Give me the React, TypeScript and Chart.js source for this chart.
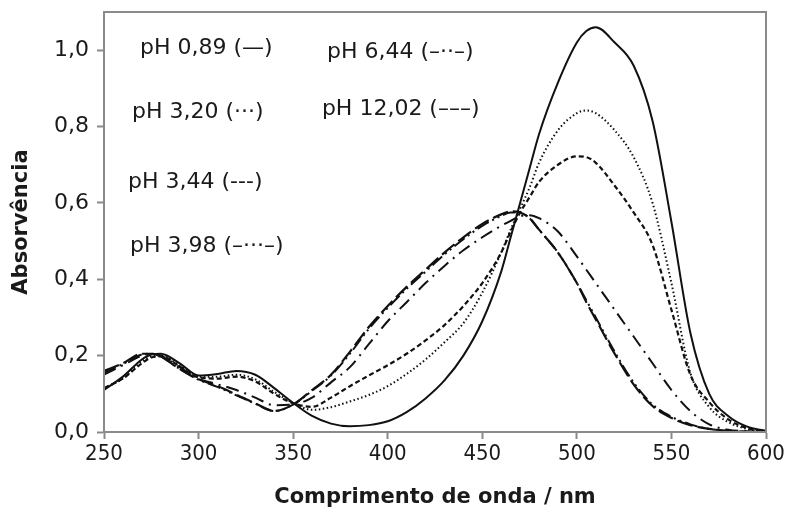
import React, { useEffect, useRef } from "react";
import { Chart, registerables } from "chart.js";

Chart.register(...registerables);

const wavelengths = [250, 260, 270, 275, 280, 290, 300, 310, 320, 330, 340, 350, 360, 370, 380, 390, 400, 410, 420, 430, 440, 450, 460, 465, 470, 475, 480, 490, 500, 505, 510, 520, 530, 540, 550, 560, 570, 580, 590, 600];

const ph089 = [0.11, 0.145, 0.19, 0.203, 0.205, 0.18, 0.148, 0.152, 0.16, 0.15, 0.115, 0.076, 0.042, 0.022, 0.015, 0.018, 0.028, 0.052, 0.088, 0.135, 0.2, 0.29, 0.42, 0.51, 0.6, 0.69, 0.78, 0.915, 1.02, 1.05, 1.06, 1.02, 0.96, 0.815, 0.55, 0.26, 0.1, 0.042, 0.014, 0.003];
const ph320 = [0.115, 0.14, 0.185, 0.198, 0.2, 0.175, 0.145, 0.145, 0.15, 0.138, 0.105, 0.076, 0.058, 0.065, 0.08, 0.097, 0.12, 0.152, 0.19, 0.235, 0.285, 0.365, 0.47, 0.53, 0.585, 0.64, 0.705, 0.79, 0.835, 0.842, 0.835, 0.79, 0.72, 0.6, 0.39, 0.155, 0.065, 0.026, 0.008, 0.001];
const ph344 = [0.115, 0.14, 0.18, 0.195, 0.198, 0.172, 0.143, 0.14, 0.145, 0.132, 0.1, 0.075, 0.066, 0.09, 0.12, 0.148, 0.175, 0.205, 0.24, 0.28, 0.33, 0.39, 0.47, 0.525, 0.575, 0.615, 0.655, 0.7, 0.722, 0.72, 0.705, 0.645, 0.575, 0.49, 0.32, 0.15, 0.078, 0.033, 0.01, 0.002];
const ph398 = [0.15, 0.175, 0.2, 0.205, 0.2, 0.17, 0.14, 0.125, 0.11, 0.09, 0.07, 0.072, 0.09, 0.13, 0.17, 0.23, 0.29, 0.34, 0.39, 0.435, 0.476, 0.51, 0.54, 0.553, 0.565, 0.568, 0.56, 0.525, 0.46, 0.425, 0.39, 0.32, 0.25, 0.18, 0.11, 0.055, 0.02, 0.006, 0.002, 0];
const ph644 = [0.155, 0.178, 0.203, 0.205, 0.198, 0.165, 0.137, 0.118, 0.096, 0.074, 0.055, 0.072, 0.108, 0.148, 0.205, 0.27, 0.325, 0.375, 0.42, 0.465, 0.505, 0.54, 0.566, 0.575, 0.574, 0.56, 0.53, 0.47, 0.39, 0.345, 0.3, 0.21, 0.13, 0.072, 0.04, 0.02, 0.008, 0.003, 0.001, 0];
const ph1202 = [0.16, 0.18, 0.205, 0.205, 0.198, 0.165, 0.138, 0.12, 0.098, 0.075, 0.055, 0.072, 0.11, 0.15, 0.21, 0.275, 0.33, 0.38, 0.425, 0.47, 0.51, 0.545, 0.57, 0.578, 0.575, 0.56, 0.53, 0.47, 0.39, 0.34, 0.295, 0.205, 0.125, 0.068, 0.037, 0.018, 0.008, 0.003, 0.001, 0];

const xTicks = [250, 300, 350, 400, 450, 500, 550, 600];
const yTicks = [0, 0.2, 0.4, 0.6, 0.8, 1.0];

const legendTexts = ["pH 0,89 (\u2014)", "pH 6,44 (\u2013\u00b7\u00b7\u2013)", "pH 3,20 (\u00b7\u00b7\u00b7)", "pH 12,02 (\u2013\u2013\u2013)", "pH 3,44 (---)", "pH 3,98 (\u2013\u00b7\u00b7\u00b7\u2013)"];
// anchor of each label in data units (left edge x, middle y)
const legendAnchors = [
  [269.0, 1.005],
  [367.9, 0.995],
  [264.8, 0.838],
  [365.2, 0.845],
  [262.7, 0.655],
  [263.7, 0.487],
];

const FONT = "'DejaVu Sans', sans-serif";
const FONT_C = "'DejaVu Sans Condensed', 'DejaVu Sans', sans-serif";
const GREY = "#8a8a8a";
const INK = "#1a1a1a";

const series = [
  { label: "pH 0,89", data: ph089, dash: [], width: 2 },
  { label: "pH 3,20", data: ph320, dash: [1.5, 2.5], width: 2 },
  { label: "pH 3,44", data: ph344, dash: [5, 3], width: 2.2 },
  { label: "pH 3,98", data: ph398, dash: [13, 6, 2, 6], width: 2 },
  { label: "pH 6,44", data: ph644, dash: [13, 4, 2, 4, 2, 4], width: 2 },
  { label: "pH 12,02", data: ph1202, dash: [16, 5], width: 2.2 },
];

const boxPlugin = {
  id: "boxPlugin",
  afterDatasetsDraw(chart: any) {
    const { ctx, chartArea, scales } = chart;
    ctx.save();
    ctx.strokeStyle = GREY;
    ctx.lineWidth = 2;
    ctx.strokeRect(chartArea.left, chartArea.top, chartArea.right - chartArea.left, chartArea.bottom - chartArea.top);
    ctx.fillStyle = INK;
    ctx.font = `22px ${FONT}`;
    ctx.textBaseline = "middle";
    ctx.textAlign = "left";
    legendTexts.forEach((t, i) => {
      const x = scales.x.getPixelForValue(legendAnchors[i][0]);
      const y = scales.y.getPixelForValue(legendAnchors[i][1]);
      ctx.fillText(t, x, y);
    });
    ctx.restore();
  },
};

export default function App() {
  const ref = useRef<HTMLCanvasElement>(null);
  useEffect(() => {
    if (!ref.current) return;
    const chart = new Chart(ref.current, {
      type: "line",
      data: {
        datasets: series.map((s) => ({
          label: s.label,
          data: wavelengths.map((w, i) => ({ x: w, y: s.data[i] })),
          borderColor: "#111",
          borderWidth: s.width,
          borderDash: s.dash,
          pointRadius: 0,
          fill: false,
          cubicInterpolationMode: "monotone" as const,
        })),
      },
      options: {
        responsive: false,
        animation: false,
        layout: { padding: { top: 12, right: 21, left: 0, bottom: 0 } },
        plugins: { legend: { display: false }, tooltip: { enabled: false } },
        scales: {
          x: {
            type: "linear",
            min: 250,
            max: 600,
            afterBuildTicks: (s: any) => {
              s.ticks = xTicks.map((v) => ({ value: v }));
            },
            afterFit: (s: any) => {
              s.height = 83;
              s.paddingLeft = 0;
              s.paddingRight = 0;
            },
            ticks: {
              color: INK,
              font: { family: FONT_C, size: 22 },
              padding: 2,
              maxRotation: 0,
              callback: (v: any) => String(v),
            },
            grid: { drawOnChartArea: false, tickLength: 7, tickColor: GREY, tickWidth: 2 },
            border: { color: GREY, width: 2 },
            title: {
              display: true,
              text: "Comprimento de onda / nm",
              color: INK,
              font: { family: FONT, size: 21, weight: "bold" },
              padding: { top: 0, bottom: 5 },
            },
          },
          y: {
            type: "linear",
            min: 0,
            max: 1.1,
            afterBuildTicks: (s: any) => {
              s.ticks = yTicks.map((v) => ({ value: v }));
            },
            afterFit: (s: any) => {
              s.width = 104;
              s.paddingTop = 0;
              s.paddingBottom = 0;
            },
            ticks: {
              color: INK,
              font: { family: FONT, size: 22 },
              padding: 8,
              callback: (v: any) => Number(v).toFixed(1).replace(".", ","),
            },
            grid: { drawOnChartArea: false, tickLength: 7, tickColor: GREY, tickWidth: 2 },
            border: { color: GREY, width: 2 },
            title: {
              display: true,
              text: "Absorvência",
              color: INK,
              font: { family: FONT, size: 21, weight: "bold" },
              padding: { top: 9, bottom: 0 },
            },
          },
        },
      },
      plugins: [boxPlugin],
    });
    return () => chart.destroy();
  }, []);
  return (
    <div style={{ position: "absolute", left: 0, top: 0, width: 787, height: 515, background: "#fff" }}>
      <canvas ref={ref} width={787} height={515} />
    </div>
  );
}
